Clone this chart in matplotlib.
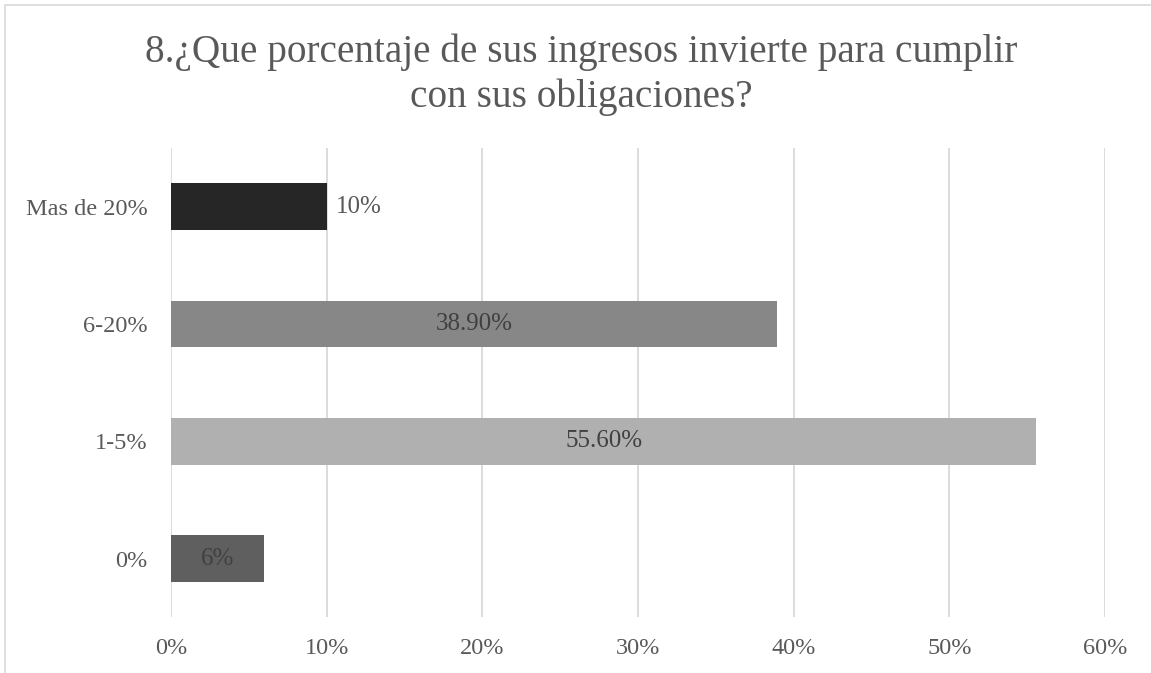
import matplotlib.pyplot as plt
from matplotlib.patches import Rectangle

# Data
categories = ["0%", "1-5%", "6-20%", "Mas de 20%"]
values = [6, 55.6, 38.9, 10]
labels = ["6%", "55.60%", "38.90%", "10%"]
colors = ["#5f5f5f", "#b0b0b0", "#878787", "#262626"]
xticks = [0, 10, 20, 30, 40, 50, 60]
title_lines = ["8.¿Que porcentaje de sus ingresos invierte para cumplir",
               "con sus obligaciones?"]

plt.rcParams["font.family"] = ["Liberation Serif", "DejaVu Serif"]

fig = plt.figure(figsize=(11.51, 6.73), dpi=100)
ax = fig.add_axes([0.1486, 0.083, 0.8114, 0.697])

# light chart border (top and left edges visible)
fig.patches.append(Rectangle((5 / 1151, -0.1), 1.2, 1.1 - 5 / 673,
                             transform=fig.transFigure, fill=False,
                             edgecolor="#d9d9d9", linewidth=1.2))

ax.barh(range(len(categories)), values, height=0.4, color=colors, zorder=2)

for i, (v, lab) in enumerate(zip(values, labels)):
    if i == 3:
        ax.text(v + 0.6, i, lab, va="center", ha="left", fontsize=18, color="#595959")
    else:
        ax.text(v / 2, i, lab, va="center", ha="center", fontsize=18, color="#404040")

ax.set_xlim(0, 60)
ax.set_ylim(-0.5, 3.5)
ax.set_xticks(xticks)
ax.set_xticklabels([f"{t}%" for t in xticks])
ax.set_yticks(range(len(categories)))
ax.set_yticklabels(categories)
ax.tick_params(axis="both", length=0, labelsize=17.5, labelcolor="#595959")
ax.tick_params(axis="x", pad=15)
ax.tick_params(axis="y", pad=17)
ax.grid(axis="x", color="#d9d9d9", linewidth=1.3, zorder=0)
for s in ax.spines.values():
    s.set_visible(False)

# title, two lines placed on their baselines
fig.text(0.505, 1 - 62 / 673, title_lines[0], ha="center", va="baseline",
         fontsize=28.3, color="#595959")
fig.text(0.505, 1 - 107 / 673, title_lines[1], ha="center", va="baseline",
         fontsize=28.3, color="#595959")

fig.savefig("out.png", dpi=100)
